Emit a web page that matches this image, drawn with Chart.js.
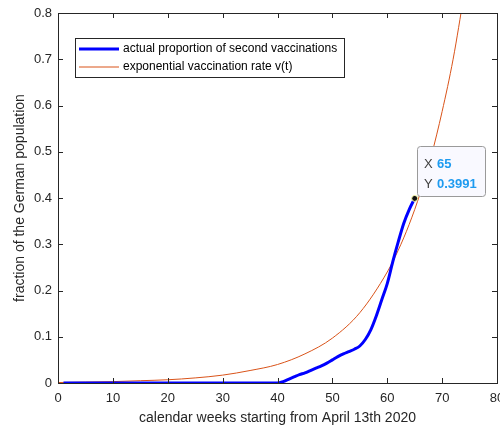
<!DOCTYPE html>
<html>
<head>
<meta charset="utf-8">
<script src="https://cdn.jsdelivr.net/npm/chart.js@4/dist/chart.umd.min.js"></script>
<style>
  html, body { margin: 0; padding: 0; background: #fff; }
  #wrap { width: 500px; height: 429px; }
</style>
</head>
<body>
<div id="wrap"><canvas id="vacc"></canvas></div>
<script>
/* ---------- data ---------- */
const blueWeeks = [1, 5, 10, 15, 20, 25, 30, 35, 40, 41, 42, 43, 44, 45, 46, 47, 48, 49, 50, 51, 52, 53, 54, 55, 56, 57, 58, 59, 60, 61, 62, 63, 64, 65];
const blueValues = [0, 0, 0, 0, 0, 0, 0, 0, 0, 0.003, 0.008, 0.013, 0.018, 0.022, 0.027, 0.032, 0.037, 0.043, 0.050, 0.057, 0.063, 0.068, 0.073, 0.080, 0.094, 0.115, 0.145, 0.180, 0.215, 0.262, 0.305, 0.345, 0.375, 0.3991];
const rateWeeks = [0, 5, 10, 15, 20, 25, 30, 35, 40, 45, 50, 55, 60, 62, 64, 66, 68, 70, 72, 74];
const rateValues = [0.001, 0.002, 0.003, 0.005, 0.007, 0.011, 0.017, 0.027, 0.040, 0.063, 0.097, 0.152, 0.240, 0.287, 0.343, 0.410, 0.490, 0.587, 0.700, 0.840];
const seriesNames = ["actual proportion of second vaccinations", "exponential vaccination rate v(t)"];
const xTicks = [0, 10, 20, 30, 40, 50, 60, 70, 80];
const yTicks = [0, 0.1, 0.2, 0.3, 0.4, 0.5, 0.6, 0.7, 0.8];
const tipWeek = 65;
const tipValue = 0.3991;

const axisColor = "#262626";
const font = "'Liberation Sans', Arial, Helvetica, sans-serif";

const toPoints = (xs, ys) => xs.map((x, i) => ({ x: x, y: ys[i] }));

/* ---------- box, inward ticks, legend, datatip ---------- */
const matlabLook = {
  id: "matlabLook",
  afterDatasetsDraw(chart) {
    const ctx = chart.ctx;
    const a = chart.chartArea;
    const sx = chart.scales.x, sy = chart.scales.y;
    ctx.save();
    ctx.strokeStyle = axisColor;
    ctx.lineWidth = 1;
    ctx.strokeRect(Math.round(a.left) + 0.5, Math.round(a.top) + 0.5, Math.round(a.right - a.left), Math.round(a.bottom - a.top));
    ctx.beginPath();
    xTicks.forEach((v) => {
      const px = Math.round(sx.getPixelForValue(v)) + 0.5;
      ctx.moveTo(px, a.bottom); ctx.lineTo(px, a.bottom - 5);
      ctx.moveTo(px, a.top); ctx.lineTo(px, a.top + 5);
    });
    yTicks.forEach((v) => {
      const py = Math.round(sy.getPixelForValue(v)) + 0.5;
      ctx.moveTo(a.left, py); ctx.lineTo(a.left + 5, py);
      ctx.moveTo(a.right, py); ctx.lineTo(a.right - 5, py);
    });
    ctx.stroke();

    // legend
    const lx = 75, ly = 38, lw = 269, lh = 39;
    ctx.fillStyle = "#fff";
    ctx.fillRect(lx, ly, lw, lh);
    ctx.strokeStyle = "#262626";
    ctx.strokeRect(lx + 0.5, ly + 0.5, lw, lh);
    ctx.font = "12px " + font;
    ctx.textBaseline = "middle";
    chart.data.datasets.forEach((ds, i) => {
      const yy = ly + 11 + i * 18;
      ctx.beginPath();
      ctx.strokeStyle = ds.borderColor;
      ctx.lineWidth = ds.borderWidth;
      ctx.moveTo(lx + 4, yy); ctx.lineTo(lx + 44, yy);
      ctx.stroke();
      ctx.fillStyle = "#000";
      ctx.fillText(ds.label, lx + 48, yy);
    });

    // datatip
    const px = sx.getPixelForValue(tipWeek), py = sy.getPixelForValue(tipValue);
    const bx = Math.round(px) + 2, by = Math.round(py) - 52, bw = 68, bh = 50;
    ctx.beginPath();
    ctx.roundRect(bx + 0.5, by + 0.5, bw, bh, 3);
    ctx.fillStyle = "#f9f9ff";
    ctx.fill();
    ctx.strokeStyle = "#9a9a9a";
    ctx.lineWidth = 1;
    ctx.stroke();
    ctx.font = "13px " + font;
    ctx.fillStyle = "#404040";
    ctx.fillText("X", bx + 7, by + 18);
    ctx.fillText("Y", bx + 7, by + 38);
    ctx.font = "bold 13px " + font;
    ctx.fillStyle = "#1e9bf0";
    ctx.fillText(String(tipWeek), bx + 20, by + 18);
    ctx.fillText(String(tipValue), bx + 20, by + 38);
    ctx.beginPath();
    ctx.arc(px, py, 3, 0, Math.PI * 2);
    ctx.fillStyle = "#111";
    ctx.fill();
    ctx.strokeStyle = "#ffffb0";
    ctx.lineWidth = 1;
    ctx.stroke();
    ctx.restore();
  },
};

new Chart(document.getElementById("vacc"), {
  type: "line",
  plugins: [matlabLook],
  data: {
    datasets: [
      {
        label: seriesNames[0],
        data: toPoints(blueWeeks, blueValues),
        borderColor: "#0000ff",
        borderWidth: 3,
        pointRadius: 0,
        cubicInterpolationMode: "monotone",
      },
      {
        label: seriesNames[1],
        data: toPoints(rateWeeks, rateValues),
        borderColor: "#d95319",
        borderWidth: 1,
        pointRadius: 0,
        cubicInterpolationMode: "monotone",
      },
    ],
  },
  options: {
    responsive: true,
    maintainAspectRatio: false,
    animation: false,
    layout: { padding: { left: 0, right: 3, top: 13, bottom: 0 } },
    plugins: { legend: { display: false }, tooltip: { enabled: false } },
    scales: {
      x: {
        type: "linear",
        min: 0,
        max: 80,
        afterBuildTicks: (s) => { s.ticks = xTicks.map((v) => ({ value: v })); },
        afterFit: (s) => { s.height = 46; s.paddingLeft = 0; s.paddingRight = 0; },
        grid: { drawOnChartArea: false, drawTicks: false },
        border: { display: false },
        ticks: { color: axisColor, padding: 8, maxRotation: 0, font: { size: 13, family: font } },
        title: { display: true, text: "calendar weeks starting from April 13th 2020", color: axisColor, padding: { top: 0, bottom: 2 }, font: { size: 14, family: font } },
      },
      y: {
        min: 0,
        max: 0.8,
        afterBuildTicks: (s) => { s.ticks = yTicks.map((v) => ({ value: v })); },
        afterFit: (s) => { s.width = 58; s.paddingTop = 0; s.paddingBottom = 0; },
        grid: { drawOnChartArea: false, drawTicks: false },
        border: { display: false },
        ticks: {
          color: axisColor,
          padding: 6,
          font: { size: 13, family: font },
          callback: (v) => (v === 0 ? "0" : (Math.round(v * 10) / 10).toFixed(1)),
        },
        title: { display: true, text: "fraction of the German population", color: axisColor, padding: { top: 12, bottom: 4 }, font: { size: 14, family: font } },
      },
    },
  },
});
</script>
</body>
</html>
